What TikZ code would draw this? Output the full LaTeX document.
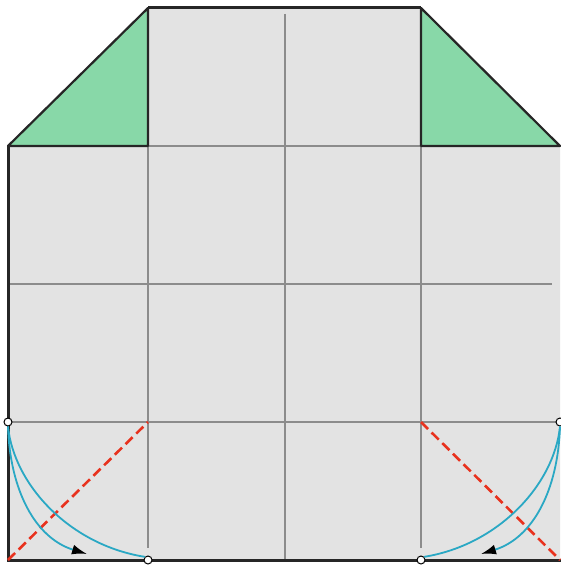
\documentclass[tikz,border=0pt]{standalone}
\usetikzlibrary{arrows.meta}
\definecolor{paper}{HTML}{E3E3E3}
\definecolor{flap}{HTML}{88D8A8}
\definecolor{gridc}{HTML}{8C8C8C}
\definecolor{foldred}{HTML}{E8321E}
\definecolor{moveblue}{HTML}{2AA8C4}
\tikzset{
  gridline/.style={draw=gridc, line width=1.3pt},
  edge/.style={draw=black!85, line width=3pt},
  flapfill/.style={fill=flap, draw=black!85, line width=2.2pt, line join=round},
  valley/.style={draw=foldred, line width=2.6pt, dash pattern=on 10pt off 5pt},
  swing/.style={draw=moveblue, line width=1.8pt},
  pt/.style={circle, draw=black, fill=white, line width=1pt, inner sep=0pt, minimum size=8pt},
  tip/.style={-{Latex[length=15pt,width=10pt,color=black]}}
}
\begin{document}
\begin{tikzpicture}[x=1pt,y=-1pt]
\useasboundingbox (0,0) rectangle (561,567);
% paper
\fill[paper] (8,146) -- (148,8) -- (421,8) -- (560,146) -- (560,560) -- (8,560) -- cycle;
% grid
\draw[gridline] (285,14) -- (285,560);
\draw[gridline] (148,146) -- (148,548);
\draw[gridline] (421,146) -- (421,548);
\draw[gridline] (148,146) -- (421,146);
\draw[gridline] (10,284) -- (552,284);
\draw[gridline] (8,422) -- (560,422);
% flaps
\draw[flapfill] (8,146) -- (148,8) -- (148,146) -- cycle;
\draw[flapfill] (560,146) -- (421,8) -- (421,146) -- cycle;
% outline
\draw[edge] (148,8) -- (421,8);
\draw[edge, line cap=rect] (8,146) -- (8,560) -- (560,560);
% fold lines
\coordinate (bl) at (8,560);
\coordinate (br) at (560,560);
\coordinate (gl) at (148,422);
\coordinate (gr) at (421,422);
\draw[valley] (bl) -- (gl);
\draw[valley] (gr) -- (br);
% points
\node[pt] (lt) at (8,422) {};
\node[pt] (lb) at (148,560) {};
\node[pt] (rt) at (560,422) {};
\node[pt] (rb) at (421,560) {};
\coordinate (la) at (87,554);
\coordinate (ra) at (481,554);
% swings
\draw[swing] (lt.south) .. controls (14,485) and (70,545) .. (lb.north west);
\draw[swing] (rt.south) .. controls (554,485) and (498,545) .. (rb.north east);
\draw[swing, tip] (lt.south) .. controls (10,490) and (35,538) .. (la);
\draw[swing, tip] (rt.south) .. controls (558,490) and (533,538) .. (ra);
\end{tikzpicture}
\end{document}
